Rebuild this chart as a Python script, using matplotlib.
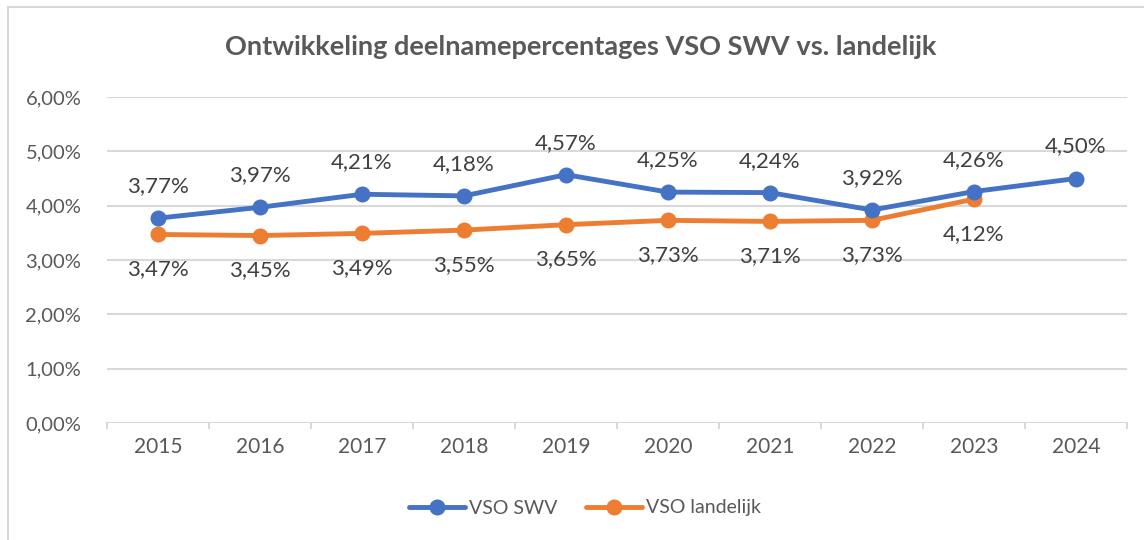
import matplotlib
matplotlib.use("Agg")
import matplotlib.pyplot as plt
from matplotlib.lines import Line2D

years = ["2015", "2016", "2017", "2018", "2019", "2020", "2021", "2022", "2023", "2024"]
vso_swv = [3.77, 3.97, 4.21, 4.18, 4.57, 4.25, 4.24, 3.92, 4.26, 4.50]
vso_landelijk = [3.47, 3.45, 3.49, 3.55, 3.65, 3.73, 3.71, 3.73, 4.12]
yticks = [0, 1, 2, 3, 4, 5, 6]
title = "Ontwikkeling deelnamepercentages VSO SWV vs. landelijk"

BLUE = "#4472C4"
ORANGE = "#ED7D31"
TXT = "#595959"
GRID = "#D9D9D9"
FONT = "Lato"

def pct(v):
    return f"{v:.2f}%".replace(".", ",")

fig = plt.figure(figsize=(11.44, 5.4), dpi=100)
W, H = 1144, 540
ax = fig.add_axes([107 / W, 1 - 423 / H, (1127 - 107) / W, (423 - 97) / H])

# chart border (left and top visible)
fig.add_artist(Line2D([8 / W, 8 / W], [0, 1 - 7 / H], transform=fig.transFigure, color=GRID, lw=1.5))
fig.add_artist(Line2D([8 / W, 1], [1 - 7 / H, 1 - 7 / H], transform=fig.transFigure, color=GRID, lw=1.5))

x = list(range(len(years)))
ax.plot(x, vso_swv, color=BLUE, lw=3.5, marker="o", ms=10.5, solid_capstyle="round", zorder=4, label="VSO SWV")
ax.plot(x[:len(vso_landelijk)], vso_landelijk, color=ORANGE, lw=3.5, marker="o", ms=10.5,
        solid_capstyle="round", zorder=3, label="VSO landelijk")

for xi, v in zip(x, vso_swv):
    ax.annotate(pct(v), (xi, v), xytext=(0, 23), textcoords="offset points", ha="center", va="center",
                fontsize=16, color="#404040", family=FONT)
for xi, v in zip(x, vso_landelijk):
    ax.annotate(pct(v), (xi, v), xytext=(0, -25), textcoords="offset points", ha="center", va="center",
                fontsize=16, color="#404040", family=FONT)

ax.set_xlim(-0.5, len(years) - 0.5)
ax.set_ylim(0, 6)
ax.set_yticks(yticks)
ax.set_yticklabels([pct(t) for t in yticks], fontsize=14.5, color=TXT, family=FONT)
ax.set_xticks(x)
ax.set_xticklabels(years, fontsize=15, color=TXT, family=FONT)
ax.tick_params(axis="y", length=0, pad=18.5)
ax.tick_params(axis="x", length=0, pad=10)
# category boundary ticks
for b in [i - 0.5 for i in range(len(years) + 1)]:
    ax.plot([b, b], [0, -0.1], color=GRID, lw=1.5, clip_on=False, zorder=1)
ax.grid(axis="y", color=GRID, lw=1.5)
ax.set_axisbelow(True)
for s in ax.spines.values():
    s.set_visible(False)

fig.text(581 / W, 1 - 47 / H, title, ha="center", va="center", fontsize=19.5,
         fontweight="bold", color=TXT, family=FONT)

leg = fig.legend(handles=ax.get_lines()[:2], labels=["VSO SWV", "VSO landelijk"], loc="center",
                 bbox_to_anchor=(585 / W, 1 - 508 / H), ncol=2, frameon=False, handlelength=2.85,
                 columnspacing=1.5, handletextpad=0.2,
                 prop={"family": FONT, "size": 14})
for t in leg.get_texts():
    t.set_color(TXT)

fig.savefig("out.png", dpi=100, facecolor="white")
